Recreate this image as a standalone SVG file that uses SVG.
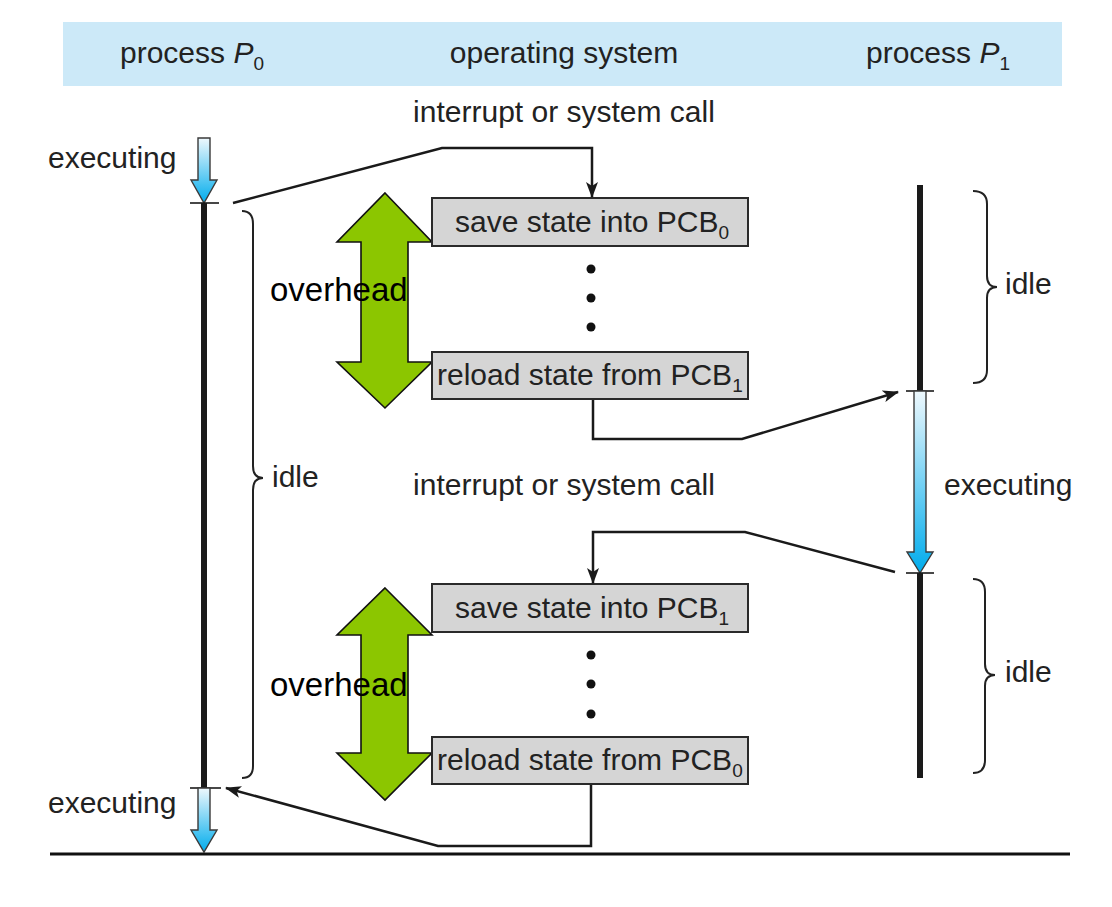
<svg xmlns="http://www.w3.org/2000/svg" width="1112" height="907" viewBox="0 0 1112 907">
<defs>
<style>
text{font-family:"Liberation Sans",Arial,sans-serif;fill:#222;}
.lbl{font-size:30px;}
.ov{font-size:33px;fill:#000;}
.sub{font-size:19px;}
.box{fill:#d5d5d5;stroke:#2a2a2a;stroke-width:2;}
.conn{fill:none;stroke:#1a1a1a;stroke-width:2.5;}
.thick{stroke:#1a1a1a;stroke-width:6;}
.tick{stroke:#1a1a1a;stroke-width:1.6;}
.brace{fill:none;stroke:#222;stroke-width:2;}
.green{fill:#8cc600;stroke:#111;stroke-width:1.6;}
.blue{fill:url(#bg);stroke:#3a3a3a;stroke-width:1.4;}
.dot{fill:#111;}
</style>
<linearGradient id="bg" x1="0" y1="0" x2="0" y2="1">
<stop offset="0" stop-color="#eef8fd"/>
<stop offset="1" stop-color="#00acec"/>
</linearGradient>
<marker id="ah" viewBox="0 0 16 12" refX="15" refY="6" markerWidth="16" markerHeight="12" markerUnits="userSpaceOnUse" orient="auto">
<path d="M0,0 L16,6 L0,12 L4,6 Z" fill="#1a1a1a"/>
</marker>
</defs>
<rect width="1112" height="907" fill="#ffffff"/>
<g id="header">
<rect x="63" y="22" width="999" height="64" fill="#cce9f8"/>
<text class="lbl" x="120" y="63">process <tspan font-style="italic">P</tspan><tspan class="sub" dy="7">0</tspan></text>
<text class="lbl" x="564" y="63" text-anchor="middle">operating system</text>
<text class="lbl" x="866" y="63">process <tspan font-style="italic">P</tspan><tspan class="sub" dy="7">1</tspan></text>
</g>
<g id="labels">
<text class="lbl" x="564" y="122" text-anchor="middle">interrupt or system call</text>
<text class="lbl" x="564" y="495" text-anchor="middle">interrupt or system call</text>
<text class="lbl" x="48" y="168">executing</text>
<text class="lbl" x="48" y="813">executing</text>
<text class="lbl" x="944" y="495">executing</text>
</g>
<g id="process-p0">
<path class="blue" d="M198 138 H210 V180 H217 L204 203 L191 180 H198 Z"/>
<line class="tick" x1="190" y1="203" x2="219" y2="203"/>
<line class="thick" x1="204" y1="203" x2="204" y2="788"/>
<line class="tick" x1="190" y1="788" x2="221" y2="788"/>
<path class="blue" d="M198 788 H210 V830 H217 L204 852 L191 830 H198 Z"/>
<path class="brace" d="M242 211 Q253 211 253 224 L253 466 Q253 478 263 478 Q253 478 253 490 L253 766 Q253 778 242 778"/>
<text class="lbl" x="272" y="487">idle</text>
</g>
<g id="process-p1">
<line class="thick" x1="920" y1="185" x2="920" y2="391"/>
<line class="tick" x1="906" y1="391" x2="934" y2="391"/>
<path class="blue" d="M914 391 H926 V552 H933 L920 573 L907 552 H914 Z"/>
<line class="tick" x1="906" y1="573" x2="934" y2="573"/>
<line class="thick" x1="920" y1="573" x2="920" y2="778"/>
<path class="brace" d="M973 191 Q987 191 987 204 L987 276 Q987 287 997 287 Q987 287 987 298 L987 370 Q987 383 973 383"/>
<text class="lbl" x="1005" y="294">idle</text>
<path class="brace" d="M973 579 Q985 579 985 592 L985 664 Q985 675 995 675 Q985 675 985 686 L985 760 Q985 773 973 773"/>
<text class="lbl" x="1005" y="682">idle</text>
</g>
<g id="overhead-1">
<path class="green" d="M385 193 L432 242 L408 242 L408 362 L432 362 L385 408 L337 362 L361 362 L361 242 L337 242 Z"/>
<text class="ov" x="270" y="301">overhead</text>
</g>
<g id="overhead-2">
<path class="green" d="M385 588 L432 635 L408 635 L408 753 L432 753 L385 800 L337 753 L361 753 L361 635 L337 635 Z"/>
<text class="ov" x="270" y="696">overhead</text>
</g>
<g id="save-pcb0">
<rect class="box" x="432" y="198" width="316" height="48"/>
<text class="lbl" x="455" y="232">save state into PCB<tspan class="sub" dy="7">0</tspan></text>
</g>
<g id="dots-1">
<circle class="dot" cx="591" cy="269" r="4.5"/>
<circle class="dot" cx="591" cy="298" r="4.5"/>
<circle class="dot" cx="591" cy="327" r="4.5"/>
</g>
<g id="reload-pcb1">
<rect class="box" x="432" y="352" width="316" height="47"/>
<text class="lbl" x="437" y="385">reload state from PCB<tspan class="sub" dy="7">1</tspan></text>
</g>
<g id="save-pcb1">
<rect class="box" x="432" y="584" width="316" height="48"/>
<text class="lbl" x="455" y="618">save state into PCB<tspan class="sub" dy="7">1</tspan></text>
</g>
<g id="dots-2">
<circle class="dot" cx="591" cy="655" r="4.5"/>
<circle class="dot" cx="591" cy="684" r="4.5"/>
<circle class="dot" cx="591" cy="714" r="4.5"/>
</g>
<g id="reload-pcb0">
<rect class="box" x="432" y="737" width="316" height="47"/>
<text class="lbl" x="437" y="770">reload state from PCB<tspan class="sub" dy="7">0</tspan></text>
</g>
<g id="connectors">
<path class="conn" d="M233 203 L442 148 L592 148 L592 197" marker-end="url(#ah)"/>
<path class="conn" d="M593 400 L593 439 L742 439 L898 392" marker-end="url(#ah)"/>
<path class="conn" d="M895 572 L745 532 L593 532 L593 583" marker-end="url(#ah)"/>
<path class="conn" d="M591 785 L591 846 L438 846 L226 788" marker-end="url(#ah)"/>
</g>
<line x1="50" y1="854" x2="1070" y2="854" stroke="#111" stroke-width="3"/>
</svg>
